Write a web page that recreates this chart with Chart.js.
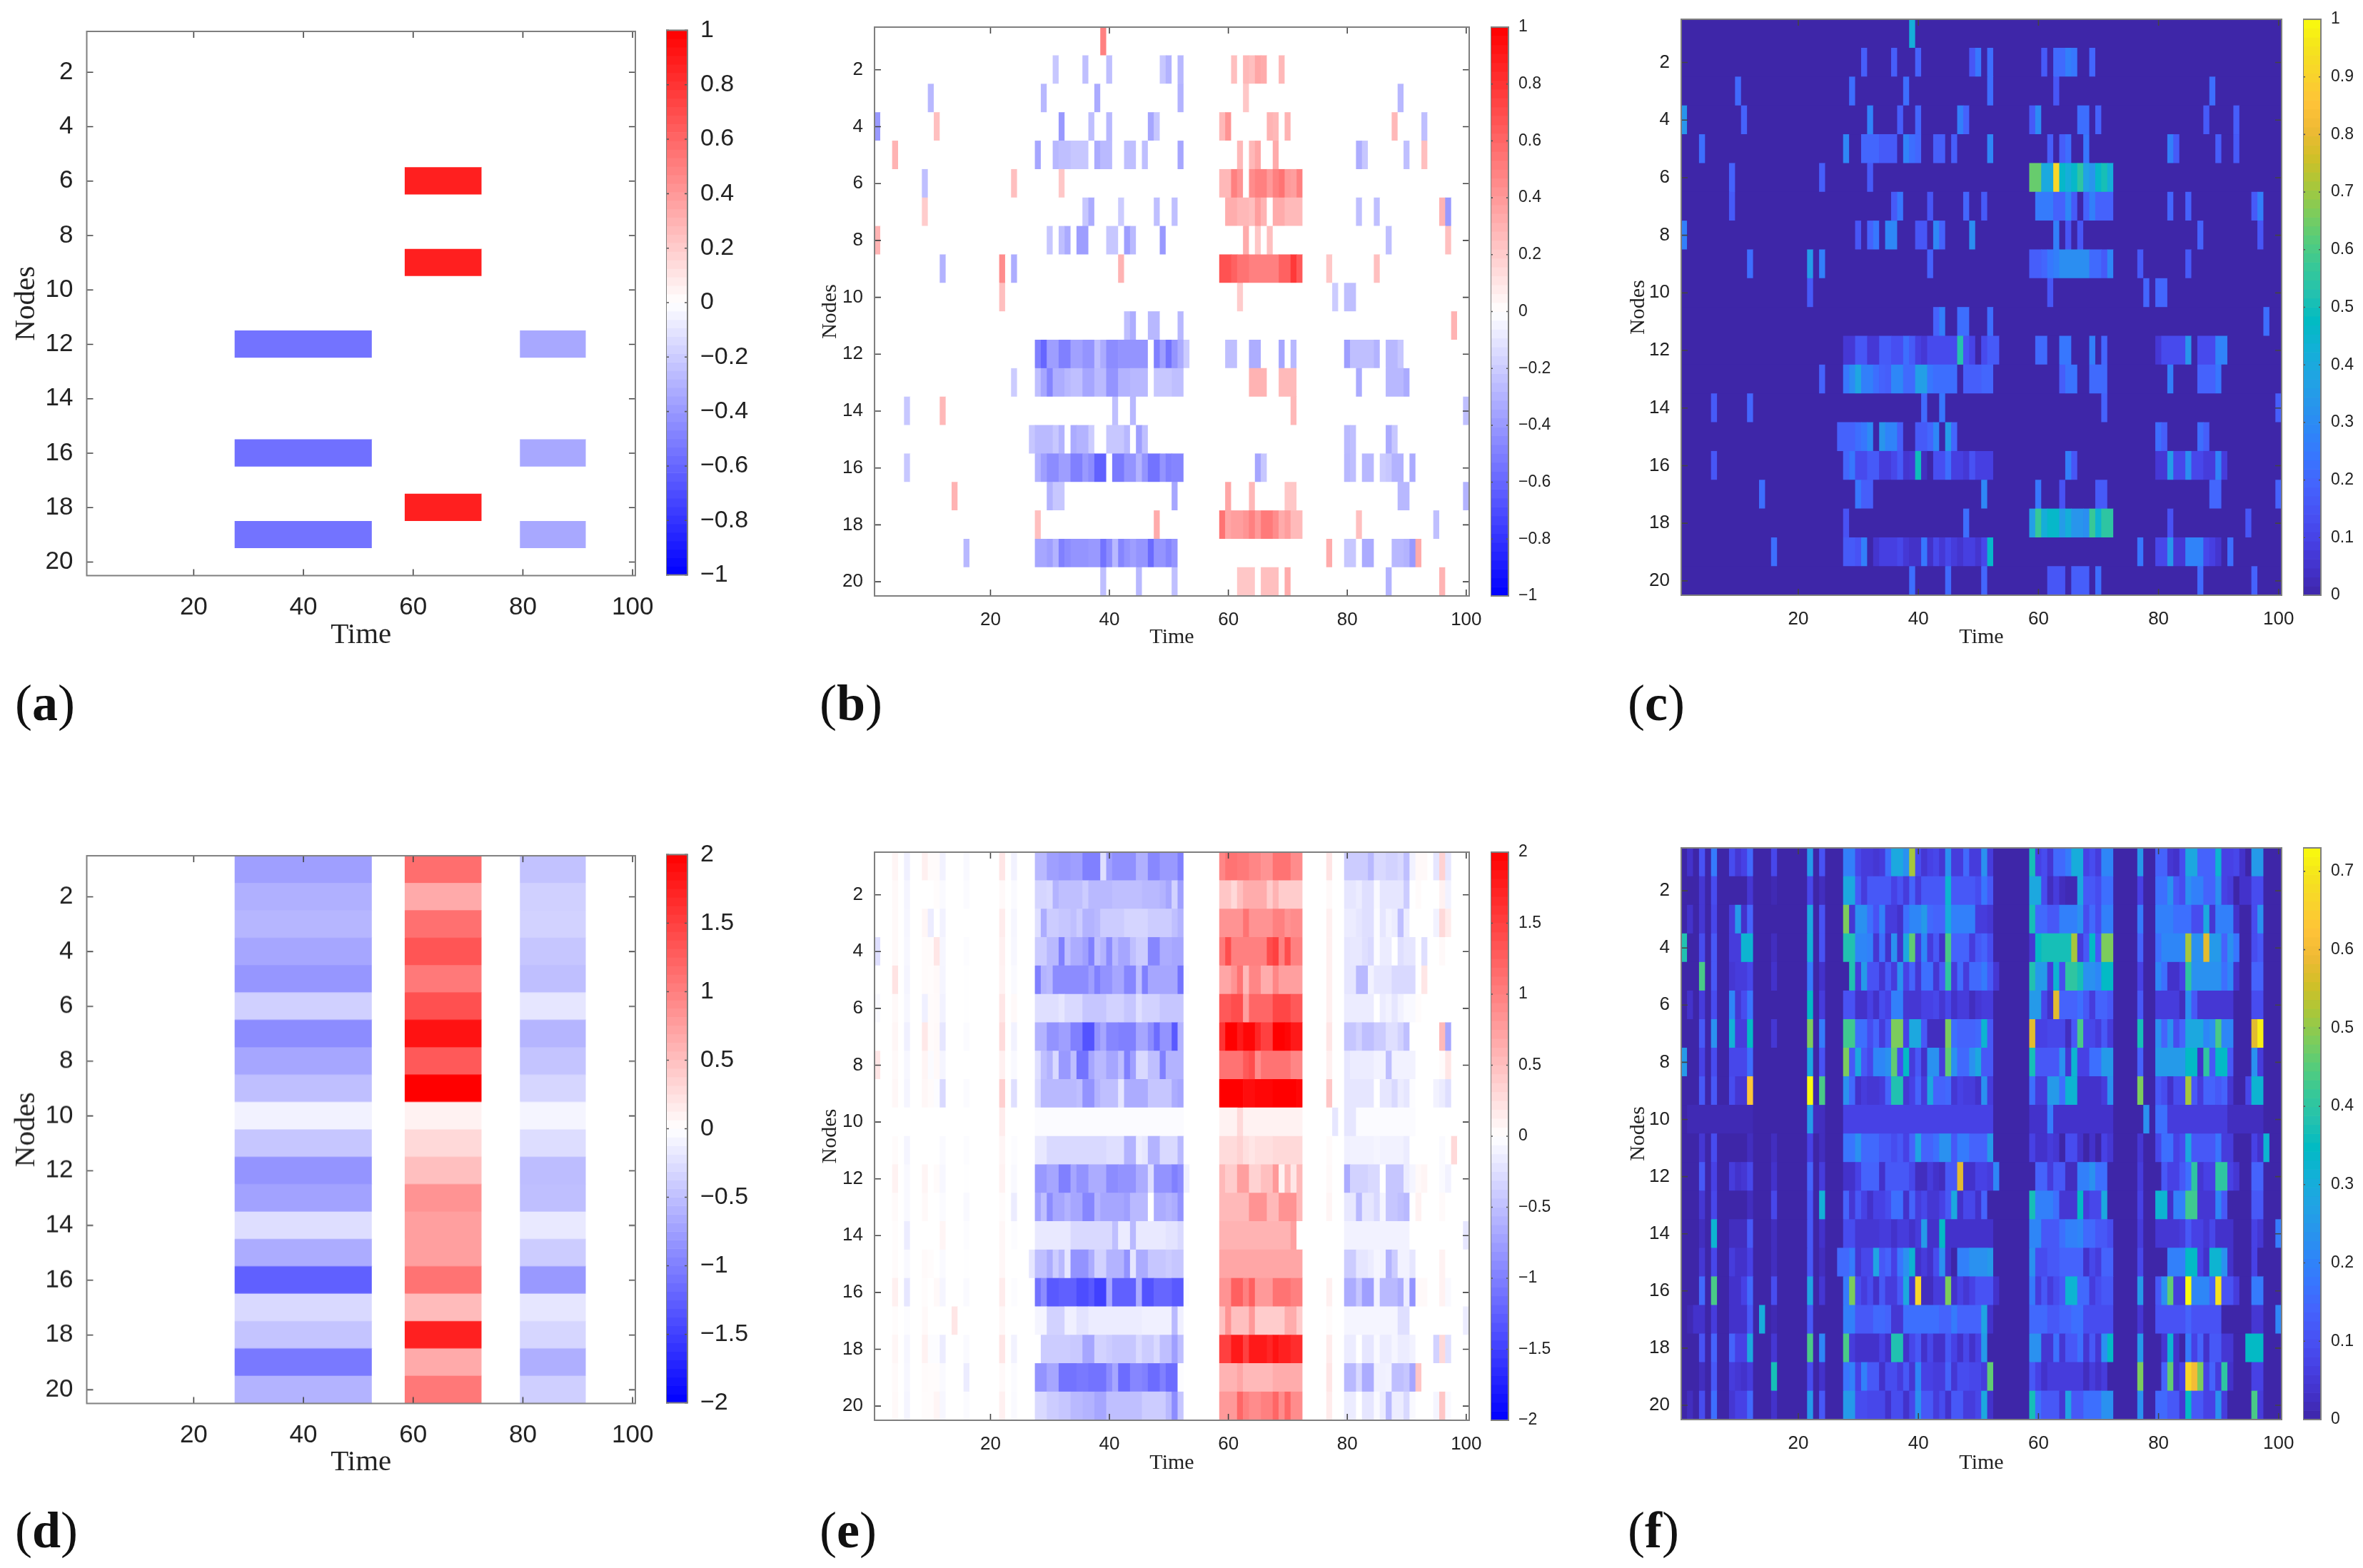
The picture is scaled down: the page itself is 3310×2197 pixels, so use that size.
<!DOCTYPE html>
<html><head><meta charset="utf-8">
<script src="https://cdn.jsdelivr.net/npm/chart.js@4/dist/chart.umd.min.js"></script>
<style>
html,body{margin:0;padding:0;background:#fff;width:3310px;height:2197px;overflow:hidden}
canvas{position:absolute}
.tag{position:absolute;font-family:"Liberation Serif";font-size:72px;line-height:72px;color:#111}
.tag b{font-weight:700}
</style></head><body>
<script>
// ---------- tick labels ----------
const nodeTicks=[2,4,6,8,10,12,14,16,18,20];
const timeTicks=[20,40,60,80,100];
const barTicksUnit=[-1,-.8,-.6,-.4,-.2,0,.2,.4,.6,.8,1];
const barTicksTwo=[-2,-1.5,-1,-.5,0,.5,1,1.5,2];
const barTicksC=[0,.1,.2,.3,.4,.5,.6,.7,.8,.9,1];
const barTicksF=[0,.1,.2,.3,.4,.5,.6,.7];
// ---------- panel a: each row is a flat list start,end,value ----------
const rowsA=[[],[],[],[],[],
[59,72,.88],[],[],[59,72,.88],[],[],
[28,52,-.55,80,91,-.34],[],[],[],
[28,52,-.56,80,91,-.34],[],
[59,72,.88],
[28,52,-.55,80,91,-.34],[]];
// ---------- panel d: block strengths per node ----------
const dBlue=[-.75,-.62,-.57,-.7,-.82,-.37,-.9,-.7,-.5,-.1,-.45,-.84,-.73,-.26,-.65,-1.25,-.3,-.46,-1.05,-.6];
const dRed=[1.14,.67,1.12,1.33,1.05,1.37,1.86,1.3,2,.1,.3,.5,.85,.75,.75,1.1,.53,1.75,.67,1.06];
const dThird=[-.48,-.37,-.35,-.45,-.5,-.2,-.58,-.46,-.32,-.08,-.27,-.52,-.5,-.17,-.4,-.8,-.2,-.32,-.63,-.38];
// ---------- panel b ----------
const rowsB=[
[39,39,.5],
[31,31,-.22,36,36,-.25,40,40,-.25,49,49,-.22,50,50,-.3,52,52,-.28,61,61,.25,63,63,.28,64,64,.25,65,65,.35,66,66,.33,69,69,.28],
[10,10,-.28,29,29,-.28,38,38,-.33,52,52,-.3,63,63,.22,89,89,-.28],
[1,1,-.4,11,11,.25,32,32,-.4,37,37,-.25,40,40,-.28,47,47,-.35,48,48,-.22,59,59,.28,60,60,.42,67,67,.3,68,68,.28,70,70,.3,88,88,.28,93,93,-.25],
[4,4,.3,28,28,-.35,31,31,-.28,32,33,-.25,34,36,-.22,38,38,-.33,39,40,-.27,43,44,-.25,46,46,-.25,52,52,-.35,62,62,.28,64,64,.28,65,65,.35,68,68,.33,82,82,-.32,83,83,-.22,90,90,-.25,93,93,.25],
[9,9,-.25,24,24,.25,32,32,.22,59,60,.28,61,61,.5,62,62,.42,64,64,.45,65,66,.5,67,67,.4,68,68,.5,69,69,.55,70,70,.4,71,71,.38,72,72,.5],
[9,9,.2,36,36,-.22,37,37,-.33,42,42,-.2,48,48,-.25,51,51,-.25,60,61,.32,62,63,.28,64,64,.25,65,65,.38,66,66,.3,68,69,.33,70,72,.27,82,82,-.25,85,85,-.25,96,96,.3,97,97,-.4],
[1,1,.3,30,30,-.22,32,32,-.25,33,33,-.33,35,36,-.38,40,41,-.22,43,43,-.38,44,44,-.27,49,49,-.4,63,63,.33,65,65,.22,67,67,.25,87,87,-.25,97,97,.25],
[12,12,-.3,22,22,.45,24,24,-.32,42,42,.3,59,60,.68,61,61,.62,62,63,.55,64,68,.5,69,70,.62,71,71,.78,72,72,.65,77,77,.22,85,85,.25],
[22,22,.25,62,62,.2,78,78,-.2,80,81,-.25],
[43,43,-.25,44,44,-.32,47,48,-.28,52,52,-.28,98,98,.3],
[28,28,-.5,29,29,-.6,30,31,-.38,32,33,-.5,34,35,-.37,36,37,-.42,38,38,-.25,39,39,-.33,40,41,-.45,42,46,-.42,48,48,-.5,49,49,-.38,50,50,-.55,51,51,-.42,52,52,-.33,53,53,-.2,60,61,-.25,64,65,-.32,69,69,-.35,71,71,-.28,80,80,-.38,81,84,-.25,85,85,-.3,87,88,-.28,89,89,-.22],
[24,24,-.2,28,28,-.25,29,29,-.35,30,30,-.48,31,32,-.32,33,33,-.28,34,35,-.25,36,37,-.35,38,39,-.27,40,41,-.42,42,43,-.3,44,46,-.28,48,50,-.22,51,52,-.25,64,66,.3,69,71,.27,82,82,-.33,87,89,-.28,90,90,-.33],
[6,6,-.22,12,12,.28,41,41,-.25,44,44,-.28,71,71,.28,100,100,-.25],
[27,27,-.22,28,30,-.27,31,31,-.22,32,32,-.3,34,34,-.33,35,36,-.3,37,37,-.2,40,42,-.22,43,43,-.28,45,45,-.38,46,46,-.25,80,80,-.27,81,81,-.25,87,87,-.33,88,88,-.22],
[6,6,-.22,28,28,-.3,29,29,-.38,30,31,-.45,32,33,-.38,34,35,-.5,36,36,-.4,37,37,-.45,38,39,-.62,41,42,-.52,43,44,-.42,45,45,-.3,46,46,-.42,47,48,-.55,49,49,-.42,50,50,-.5,51,52,-.48,65,65,-.35,66,66,-.22,80,80,-.28,81,81,-.25,83,84,-.28,86,86,-.2,87,87,-.22,88,89,-.3,91,91,-.33],
[14,14,.3,30,30,-.3,31,32,-.22,51,51,-.35,60,60,.35,64,64,.28,70,71,.22,89,90,-.28,100,100,-.3],
[28,28,.25,48,48,.33,59,59,.55,60,60,.35,61,62,.38,63,63,.42,64,64,.5,65,65,.4,66,67,.52,68,68,.45,69,69,.33,70,70,.38,71,72,.27,82,82,.25,95,95,-.25],
[16,16,-.28,28,29,-.35,30,30,-.38,31,31,-.3,32,32,-.5,33,33,-.45,34,36,-.42,37,38,-.4,39,39,-.55,40,40,-.45,41,41,-.28,42,42,-.48,43,43,-.42,44,44,-.38,45,46,-.42,47,47,-.58,48,49,-.42,50,50,-.48,51,51,-.42,77,77,.33,80,81,-.22,83,84,-.33,88,89,-.28,90,90,-.3,91,91,-.4,92,92,.33],
[39,39,-.25,45,45,-.28,51,51,-.25,62,64,.22,66,68,.25,70,70,.33,87,87,-.3,96,96,.3]
];
// ---------- panel c ----------
const rowsC=[
[39,39,.38],
[31,31,.16,36,36,.16,40,40,.17,49,49,.14,50,50,.22,52,52,.2,61,61,.15,63,64,.19,65,65,.24,66,66,.22,69,69,.18],
[10,10,.19,29,29,.2,38,38,.2,52,52,.2,63,63,.14,89,89,.2],
[1,1,.3,11,11,.17,32,32,.25,37,37,.16,40,40,.18,47,47,.24,48,48,.17,59,59,.15,60,60,.27,67,68,.2,70,70,.17,88,88,.15,93,93,.16],
[4,4,.2,28,28,.26,31,33,.18,34,36,.15,38,38,.25,39,39,.2,40,40,.18,43,44,.16,46,46,.16,52,52,.26,62,62,.16,64,64,.16,65,65,.2,68,68,.22,82,82,.24,83,83,.15,90,90,.16,93,93,.15],
[9,9,.17,24,24,.16,32,32,.15,59,60,.58,61,62,.36,63,63,.83,64,64,.42,65,65,.38,66,66,.42,67,67,.5,68,68,.34,69,69,.3,70,70,.42,71,71,.46,72,72,.38],
[9,9,.15,36,36,.15,37,37,.22,42,42,.14,48,48,.18,51,51,.15,60,62,.23,63,64,.17,65,65,.26,66,66,.15,68,68,.17,69,69,.24,70,72,.17,82,82,.18,85,85,.17,96,96,.15,97,97,.24],
[1,1,.24,30,30,.14,32,32,.17,33,33,.22,35,36,.26,40,41,.14,43,43,.26,44,44,.17,49,49,.28,63,63,.24,65,65,.14,67,67,.14,87,87,.17,97,97,.14],
[12,12,.2,22,22,.32,24,24,.24,42,42,.17,59,60,.16,61,61,.18,62,62,.22,63,63,.24,64,68,.28,69,70,.19,71,71,.15,72,72,.26,77,77,.15,85,85,.15],
[22,22,.15,62,62,.14,78,78,.18,80,81,.18],
[43,43,.17,44,44,.24,47,48,.2,52,52,.2,98,98,.2],
[28,29,.06,30,31,.14,32,33,.06,34,35,.15,36,37,.12,38,38,.2,39,39,.15,40,40,.08,41,41,.06,42,46,.11,47,47,.48,48,48,.13,49,49,.09,51,51,.11,52,53,.15,60,61,.19,64,65,.22,69,69,.24,71,71,.18,80,80,.06,81,84,.11,85,85,.3,87,89,.11,90,91,.25],
[24,24,.17,28,28,.22,29,29,.27,30,30,.35,31,32,.24,33,33,.2,34,34,.17,35,35,.16,36,37,.26,38,39,.19,40,41,.33,42,42,.22,43,46,.2,48,50,.16,51,52,.18,64,64,.16,65,66,.21,69,71,.19,82,82,.24,87,89,.17,90,90,.22],
[6,6,.15,12,12,.18,41,41,.19,44,44,.22,71,71,.17,100,100,.16],
[27,29,.17,30,30,.2,31,31,.22,32,32,.27,34,34,.3,35,36,.25,37,37,.16,40,41,.15,42,42,.18,43,43,.26,45,45,.32,46,46,.18,80,80,.2,81,81,.16,87,87,.2,88,88,.16],
[6,6,.14,28,28,.18,29,29,.22,30,31,.11,32,33,.15,34,35,.07,36,36,.1,37,37,.15,38,38,.05,39,39,.06,40,40,.45,41,41,.03,43,44,.12,45,45,.2,46,47,.08,48,48,.06,49,49,.13,50,52,.08,65,65,.24,66,66,.14,80,81,.06,82,82,.32,83,84,.1,85,85,.28,86,87,.1,88,89,.07,90,90,.25,91,91,.07],
[14,14,.2,30,30,.22,31,32,.16,51,51,.26,60,60,.22,64,64,.13,70,71,.15,89,90,.18,100,100,.17],
[28,28,.13,48,48,.2,59,59,.33,60,60,.52,61,61,.38,62,63,.42,64,64,.32,65,65,.38,66,67,.3,68,68,.28,69,69,.52,70,70,.4,71,72,.5,82,82,.13,95,95,.14],
[16,16,.2,28,29,.15,30,30,.13,31,31,.24,33,33,.05,34,36,.08,37,37,.1,38,38,.06,39,40,.04,41,41,.22,42,42,.04,43,43,.1,44,44,.06,45,45,.1,46,46,.07,47,47,.05,48,49,.08,50,50,.05,51,51,.1,52,52,.42,77,77,.22,80,81,.1,82,82,.3,83,84,.06,85,87,.25,88,88,.1,89,89,.08,90,90,.05,92,92,.2],
[39,39,.2,45,45,.19,51,51,.18,62,64,.14,66,68,.16,70,70,.2,87,87,.19,96,96,.17]
];
// ---------- panel e ----------
const stripeColsE=[4,6,9,10,11,12,16,22,24];
const stripesE=[
[.08,-.12,.12,.03,.03,-.1,-.05,.2,-.1],
[.05,-.08,0,0,.02,-.04,-.03,.05,-.04],
[.05,-.07,.07,-.15,0,-.1,0,.15,-.07],
[.05,-.06,.03,.03,.2,-.07,-.02,.12,-.06],
[.22,-.08,.03,.02,.05,-.08,-.01,.1,-.04],
[.05,-.06,-.12,.03,.04,-.1,-.01,.2,.05],
[.07,-.12,.18,.03,.05,-.2,-.03,.28,-.1],
[.05,-.06,.08,-.03,.05,-.08,0,.12,-.05],
[.06,-.08,.06,.03,-.02,-.3,-.03,.38,-.25],
[0,0,0,0,0,0,0,.15,0],
[.03,-.08,0,0,0,-.04,-.02,.08,-.02],
[.1,-.05,.08,0,.03,-.06,-.01,.1,-.05],
[.04,-.05,.05,0,0,-.03,-.05,.03,-.15],
[.02,-.15,0,0,0,.08,-.02,.06,-.02],
[.03,-.05,.04,.02,0,-.04,-.01,.06,0],
[.12,-.2,.02,0,.05,-.08,-.04,.15,-.02],
[.02,-.02,.05,0,0,0,0,.06,0],
[.07,-.07,.1,-.02,-.02,-.15,-.04,.2,-.1],
[.04,-.06,.03,.02,.02,-.04,-.15,.05,-.03],
[.05,-.08,.02,.02,.08,-.06,-.03,.12,-.04]
];
const col77E=[.2,.05,.12,.12,.12,.12,.2,.12,.45,0,.04,.05,.08,0,0,.12,.03,.15,.2,.15];
const blueE=[
[28,29,.55,30,31,.75,32,33,.8,34,35,.75,36,38,1,39,39,.25,40,40,.75,41,44,.87,45,46,.62,47,48,.93,49,51,.8,52,52,1],
[28,29,.33,30,30,.3,31,31,.6,32,35,.5,36,36,.4,37,40,.55,41,45,.5,46,48,.55,49,49,.6,50,50,.7,51,51,.35,52,52,.75],
[28,28,.25,29,29,.65,30,31,.4,32,33,.45,34,34,.5,35,35,.4,36,37,.6,38,38,.55,39,42,.4,43,46,.33,47,50,.4,51,51,.5,52,52,.6],
[28,29,.4,30,31,.55,32,32,1,33,33,.5,34,35,.65,36,36,.75,37,37,1,38,38,.5,39,39,.6,40,40,.9,41,41,.55,42,43,.7,44,44,.5,45,46,.4,47,48,.95,49,50,.65,51,52,.7],
[28,28,1,29,29,.6,30,30,.55,31,36,.9,37,37,.75,38,38,1,39,40,.85,41,42,.7,43,44,.95,45,45,.5,46,46,1,47,51,.7,52,52,1.1,53,53,.02],
[28,31,.25,32,32,.2,33,35,.3,36,39,.45,40,42,.35,43,44,.45,45,45,.25,46,48,.35,49,52,.45],
[28,29,.6,30,31,.85,32,33,.75,34,35,1,36,37,1.35,38,38,.85,39,39,.7,40,41,.95,42,44,1,45,46,.7,47,47,.9,48,48,1.15,49,50,.85,51,51,1.3,52,52,.6],
[28,28,.25,29,29,.5,30,30,.6,31,31,.3,32,33,.8,34,34,.5,35,36,1.1,37,37,.7,38,39,.55,40,41,.7,42,42,.5,43,43,1,44,44,.75,45,46,.3,47,48,.5,49,49,1,50,52,.6],
[28,28,.3,29,34,.55,35,35,.5,36,37,.85,38,38,.6,39,41,.5,42,42,.2,43,46,.65,47,50,.45,51,51,.65,52,52,.7],
[28,52,.03],
[28,29,.18,30,39,.3,40,42,.25,43,44,.6,45,45,.15,46,46,.2,47,48,.6,49,51,.3,52,52,.55],
[28,29,.8,30,31,.7,32,33,1,34,34,.7,35,36,.85,37,39,.65,40,41,.9,42,44,.85,45,46,.65,47,47,.25,48,50,.85,51,51,1,52,52,.9,53,53,.12],
[28,28,.7,29,29,.5,30,30,.9,31,32,.7,33,33,.6,34,35,.7,36,37,.95,38,38,.6,39,42,.7,43,43,.75,44,46,.55,48,49,.65,50,50,.6,51,51,.65,52,52,.85],
[28,33,.17,34,40,.3,41,41,.5,42,43,.15,44,44,.55,45,49,.17,50,51,.22,52,52,.3],
[27,27,.2,28,29,.5,30,30,.65,31,31,.4,32,32,.55,33,33,.2,34,36,.85,37,37,.65,38,39,.35,40,42,.6,43,43,.85,44,44,.2,45,46,.65,47,49,.45,50,50,.4,51,52,.45],
[28,28,1.1,29,29,.9,30,31,1.3,32,34,1.25,35,36,1.4,37,37,1.3,38,39,1.5,40,40,.7,41,44,1.25,45,45,.65,46,47,1.35,48,50,1.2,51,52,1.3,53,53,.02],
[28,29,.08,30,32,.35,33,34,.12,35,36,.22,37,45,.15,46,50,.12,51,51,.55,52,52,.12],
[29,33,.4,34,35,.42,36,37,.7,38,39,.35,40,40,.4,41,44,.45,45,45,.3,46,47,.4,48,48,.3,49,50,.5,51,51,.75,52,52,.5],
[28,29,.85,30,31,.7,32,34,1.1,35,36,1.05,37,39,1.1,40,40,.9,41,41,.7,42,43,1.15,44,45,.95,46,46,1,47,48,1.15,49,49,1,50,51,1.15,52,52,.02],
[28,29,.3,30,31,.4,32,33,.45,34,35,.55,36,37,.6,38,39,.7,40,45,.5,46,49,.4,50,50,.55,51,51,.9,52,52,.45]
];
const redE=[
[59,59,.95,60,61,1.1,62,63,1.05,64,65,.95,66,67,.85,68,70,1.1,71,72,.9],
[59,60,.45,61,61,.3,62,62,.5,63,66,.65,67,67,.4,68,68,.6,69,72,.4],
[59,62,.85,63,63,1.1,64,67,.85,68,69,1,70,70,.85,71,72,.9],
[59,59,1.05,60,60,1.4,61,66,1,67,67,1.4,68,68,1.5,69,69,1,70,70,1.4,71,72,1],
[59,60,.7,61,61,.85,62,62,1.1,63,63,.55,64,65,.95,66,67,.65,68,68,.95,69,72,.75],
[59,60,1.3,61,62,1.4,63,63,.75,64,67,1.2,68,70,1.45,71,72,1.3],
[59,59,1.6,60,61,2,62,62,1.8,63,64,1.95,65,65,1.7,66,67,1.5,68,69,2,70,70,1.95,71,72,1.8],
[59,62,1.1,63,63,1.3,64,64,1.4,65,65,.9,66,70,1.1,71,72,.95],
[59,62,2,63,64,1.9,65,67,1.95,68,71,2,72,72,1.95],
[59,61,.1,62,62,.3,63,72,.1],
[59,61,.28,62,62,.35,63,63,.25,64,64,.2,65,67,.25,68,68,.3,69,72,.3],
[59,59,.55,60,61,.4,62,63,.75,64,65,.35,66,67,.5,68,68,.8,69,69,.1,70,70,.55,71,71,.2,72,72,.55],
[59,63,.55,64,66,.85,67,68,.55,69,71,.85,72,72,.55],
[59,70,.6,71,71,.75],
[59,72,.7],
[59,60,.85,61,62,1.25,63,63,1,64,64,1.25,65,67,.8,68,70,1.1,71,72,1],
[59,59,.5,60,60,.85,61,63,.5,64,64,.8,65,69,.4,70,71,.65,72,72,.4],
[59,60,1.5,61,62,1.8,63,63,1.5,64,66,1.8,67,67,1.7,68,68,1.85,69,70,1.75,71,72,1.65],
[59,61,.6,62,62,.7,63,67,.55,68,72,.65],
[59,61,.8,62,62,1.2,63,63,1,64,65,.9,66,67,1,68,68,1.2,69,69,.9,70,70,1.2,71,72,.9]
];
const thirdE=[
[80,83,.4,84,84,.55,85,86,.3,87,88,.35,89,89,.3,90,90,.5,91,91,.1],
[80,81,.2,82,82,.15,83,84,.25,85,85,.05,86,89,.2,90,90,.4],
[80,81,.15,82,82,.2,83,84,.25,85,85,.03,86,86,.2,87,87,.1,88,88,.15,89,89,.5,90,90,.15],
[80,80,.2,81,82,.18,83,83,.25,84,84,.3,85,85,.03,86,87,.15,89,89,.25,90,91,.2],
[80,81,.2,82,83,.55,84,84,.1,85,87,.2,88,91,.3],
[80,84,.15,86,86,.15,87,87,.1,88,88,.2,89,89,.1,90,91,.05],
[80,81,.45,82,82,.35,83,84,.5,85,86,.4,87,88,.25,89,89,.35,90,90,.5],
[80,80,.2,81,84,.15,85,86,.1,87,87,.5,88,91,.1],
[80,84,.2,86,87,.2,88,88,.3,89,89,.15,90,90,.2,91,91,.02],
[82,91,.03],
[80,80,.12,81,84,.1,85,85,.08,86,89,.1,90,90,.15],
[80,80,.65,81,83,.35,84,85,.3,87,89,.45,90,90,.15,91,91,.08],
[80,81,.18,82,82,.55,83,84,.2,85,85,.3,86,86,.08,87,88,.45,89,89,.5,90,90,.55],
[80,90,.1],
[80,81,.4,82,83,.2,84,84,.15,85,85,.08,86,86,.1,87,87,.6,88,88,.4,89,90,.1,91,91,.2],
[80,81,.65,82,82,.45,83,84,.75,85,85,.1,86,88,.55,89,89,.65,90,90,.15,91,91,.85],
[80,88,.08,89,90,.25],
[80,81,.15,83,84,.2,85,85,.05,86,87,.15,88,88,.08,89,90,.15,91,91,.1],
[80,81,.55,82,82,.3,83,84,.65,85,86,.12,87,87,.1,88,89,.5,90,90,.45,91,91,.7],
[80,81,.15,83,84,.2,85,85,.05,86,86,.15,87,87,.55,88,89,.15,90,90,.3,91,91,.05]
];
const extraE=[
[1,92,.05],[1,93,.05],[1,95,-.2],[1,96,.35],[1,97,-.2],[2,92,.03],[2,96,.1],[2,97,-.1],[3,95,-.1],[3,96,.3],[3,97,.15],
[4,1,-.25],[4,93,-.25],[4,96,.05],[5,93,.2],[6,1,-.05],[6,92,.02],[7,96,.55],[7,97,-.7],[8,1,.2],[8,96,.03],[8,97,.2],
[9,95,-.1],[9,96,-.15],[9,97,-.25],[11,96,-.04],[11,98,.3],[12,92,.05],[12,93,.08],[12,96,-.04],[12,97,-.1],[13,92,.1],[13,96,.04],
[14,100,-.2],[15,96,.1],[16,92,.05],[16,93,.05],[16,96,.1],[16,97,-.05],[17,14,.2],[17,100,-.15],[18,95,-.35],[18,96,.3],[18,97,-.25],
[19,92,.45],[20,95,-.08],[20,96,.45],[20,97,-.05],[10,78,-.2],[10,80,-.2],[10,81,-.2]
];
// ---------- panel f ----------
const rowsF=[
[2,2,.03,4,4,.09,6,6,.16,9,9,.08,10,10,.04,11,11,.06,12,12,.13,16,16,.07,22,22,.22,24,24,.09,28,29,.17,30,30,.07,31,32,.05,33,33,.04,34,34,.05,35,35,.14,36,37,.25,38,38,.2,39,39,.45,40,40,.08,41,41,.04,42,42,.06,43,43,.07,44,44,.04,45,45,.2,46,47,.05,48,48,.13,49,50,.05,51,51,.2,52,52,.05,59,59,.32,60,60,.06,61,61,.08,62,62,.04,63,64,.13,65,65,.16,66,67,.26,68,68,.06,69,69,.08,70,70,.05,71,72,.18,77,77,.22,80,81,.12,82,82,.04,83,83,.03,84,84,.08,85,86,.25,87,89,.12,90,90,.28,91,92,.06,93,93,.07,94,94,.03,96,97,.22],
[4,4,.04,6,6,.08,12,12,.04,16,16,.01,22,22,.07,24,24,.02,28,29,.25,30,30,.1,31,31,.05,32,35,.1,36,36,.06,37,37,.09,38,38,.05,39,39,.12,40,40,.05,41,44,.1,45,45,.28,46,49,.1,50,50,.08,51,51,.15,52,52,.1,59,60,.25,61,61,.08,62,62,.02,63,63,.05,64,64,.02,65,66,.01,67,67,.25,68,69,.1,70,70,.08,71,72,.14,77,77,.06,80,81,.14,82,82,.2,83,83,.1,84,84,.08,85,85,.2,86,87,.17,88,89,.12,90,90,.2,91,91,.06,92,92,.05,94,95,.03,96,97,.08],
[2,2,.03,4,4,.04,6,6,.07,9,9,.05,10,10,.22,11,11,.03,12,12,.12,22,22,.25,24,24,.09,28,28,.42,29,29,.04,30,31,.2,32,32,.14,33,33,.09,34,34,.17,35,36,.05,37,37,.03,38,38,.14,39,40,.18,41,41,.22,42,42,.13,43,44,.12,45,45,.26,46,49,.17,50,51,.05,52,52,.04,59,59,.32,60,61,.13,62,63,.1,64,66,.17,67,67,.2,68,68,.08,69,69,.13,70,70,.08,71,72,.17,77,77,.16,80,82,.17,83,85,.14,86,87,.08,88,88,.25,89,89,.04,90,92,.17,93,93,.03,96,96,.08,97,97,.2],
[1,1,.33,4,4,.08,6,6,.1,9,10,.05,11,12,.28,16,16,.02,22,22,.27,24,24,.09,28,29,.33,30,31,.18,32,32,.17,33,33,.04,34,34,.14,35,35,.03,36,36,.2,37,37,.03,38,38,.25,39,39,.4,40,40,.05,41,41,.18,42,42,.05,43,43,.1,44,44,.03,45,45,.38,46,48,.12,49,49,.05,50,50,.1,51,51,.12,52,52,.08,59,59,.04,60,60,.3,61,65,.32,66,66,.45,67,67,.05,68,68,.1,69,69,.3,70,70,.1,71,72,.42,77,77,.12,80,80,.14,81,84,.18,85,85,.45,86,87,.2,88,88,.5,89,90,.22,91,91,.12,92,92,.2,93,93,.15,96,96,.08,97,97,.1],
[4,4,.38,6,6,.1,9,9,.04,10,11,.05,12,12,.07,16,16,.03,22,22,.16,24,24,.03,29,29,.33,30,30,.05,31,31,.22,32,33,.09,34,34,.04,35,35,.1,36,36,.05,37,37,.2,38,38,.06,39,39,.12,40,40,.04,41,42,.14,43,43,.04,44,44,.1,45,45,.35,46,46,.05,47,47,.13,48,48,.05,49,50,.13,51,51,.16,52,52,.1,53,53,.04,59,59,.33,60,61,.22,62,62,.05,63,63,.28,64,64,.08,65,66,.35,67,67,.32,68,69,.2,70,70,.18,71,72,.3,77,77,.06,80,80,.18,81,81,.14,82,83,.03,84,84,.06,85,85,.35,86,90,.2,91,91,.14,92,92,.18,93,93,.03,96,97,.12],
[2,2,.03,4,4,.05,6,6,.08,9,9,.18,10,10,.04,11,11,.08,12,12,.15,22,22,.3,24,24,.05,28,29,.09,30,31,.03,32,32,.06,33,33,.03,34,34,.08,35,35,.06,36,37,.17,38,40,.04,41,42,.06,43,43,.07,44,44,.04,45,45,.07,46,46,.03,47,48,.05,49,49,.02,50,50,.04,51,52,.05,59,60,.22,61,61,.07,62,62,.03,63,63,.5,64,66,.12,67,67,.14,68,68,.1,69,69,.05,70,71,.12,72,72,.1,77,77,.1,80,83,.05,84,84,.02,85,85,.2,86,86,.1,87,92,.04,96,97,.08],
[4,4,.1,6,6,.2,9,9,.27,10,11,.05,12,12,.3,16,16,.04,22,22,.42,24,24,.16,28,29,.37,30,31,.14,32,32,.08,33,33,.12,34,34,.05,35,35,.1,36,37,.42,38,38,.06,39,40,.25,41,41,.1,42,44,.02,45,45,.42,46,46,.14,47,49,.12,50,50,.13,51,51,.28,52,52,.1,59,59,.5,60,61,.06,62,64,.07,65,65,.02,66,66,.1,67,67,.38,68,69,.07,70,70,.05,71,71,.1,72,72,.05,77,77,.32,80,80,.2,81,81,.12,82,82,.2,83,83,.08,84,84,.12,85,87,.25,88,88,.18,89,89,.2,90,90,.38,91,92,.18,96,96,.5,97,97,.62],
[1,1,.22,4,4,.06,6,6,.08,9,11,.07,12,12,.14,22,22,.25,24,24,.09,28,28,.42,29,29,.1,30,30,.25,31,31,.1,32,32,.07,33,34,.18,35,35,.2,36,36,.4,37,37,.08,38,38,.3,39,39,.05,40,40,.1,41,41,.03,42,43,.2,44,44,.05,45,45,.4,46,46,.2,47,48,.13,49,49,.2,50,50,.25,51,52,.1,59,59,.32,60,63,.1,64,64,.2,65,65,.04,66,66,.28,67,68,.06,69,70,.14,71,72,.22,77,77,.12,80,84,.22,85,86,.3,87,87,.03,88,88,.35,89,89,.1,90,91,.3,92,92,.1,96,96,.2,97,97,.05],
[4,4,.1,6,6,.1,9,9,.08,10,11,.04,12,12,.55,22,22,.73,24,24,.38,28,28,.2,29,29,.13,30,30,.03,31,31,.05,32,33,.04,34,34,.05,35,35,.12,36,37,.33,38,38,.04,39,39,.06,40,40,.12,41,41,.05,42,42,.25,43,44,.12,45,45,.13,46,46,.04,47,47,.06,48,49,.05,50,50,.03,51,51,.2,52,52,.05,59,59,.14,60,61,.05,62,63,.22,64,64,.14,65,66,.28,67,70,.03,71,71,.05,72,72,.2,77,77,.42,80,80,.1,81,81,.08,82,82,.03,83,84,.08,85,85,.45,86,86,.1,87,87,.05,88,89,.12,90,90,.1,91,91,.12,92,92,.04,95,95,.07,96,97,.28],
[2,12,.01,22,22,.22,23,24,.02,28,52,.06,59,61,.03,62,62,.16,63,72,.03,78,78,.2,80,81,.14,82,91,.05,92,97,.02],
[4,4,.04,6,6,.08,12,12,.02,16,16,.02,22,22,.06,24,24,.02,28,29,.15,30,30,.2,31,33,.13,34,35,.1,36,36,.08,37,37,.1,38,38,.06,39,39,.12,40,40,.24,41,42,.12,43,43,.14,44,45,.2,46,46,.1,47,48,.16,49,51,.12,52,52,.22,59,59,.06,60,61,.03,62,62,.05,63,63,.04,65,66,.08,67,67,.03,69,69,.03,71,71,.06,72,72,.04,77,77,.04,80,80,.07,81,82,.14,83,83,.06,84,84,.08,85,85,.25,86,89,.1,90,90,.15,91,92,.05,96,96,.06,97,97,.03,98,98,.28],
[4,4,.1,6,6,.06,9,9,.05,10,10,.03,11,11,.04,12,12,.07,16,16,.03,22,22,.12,24,24,.05,28,29,.03,30,30,.06,31,33,.12,34,34,.03,35,38,.1,39,39,.07,40,41,.02,42,42,.05,43,43,.03,44,44,.02,45,46,.1,47,47,.5,48,49,.03,50,51,.06,52,52,.05,53,53,.18,60,61,.12,62,62,.05,63,64,.1,65,66,.02,67,68,.17,69,69,.2,70,71,.14,77,77,.05,81,81,.1,82,83,.06,84,84,.1,85,85,.14,86,86,.35,87,87,.04,88,89,.06,90,91,.35,92,92,.06,93,93,.04,96,97,.12],
[4,4,.04,6,6,.07,12,12,.02,16,16,.07,22,22,.1,24,24,.27,28,28,.12,29,29,.04,30,30,.1,31,31,.06,32,32,.03,33,34,.06,35,35,.08,36,37,.14,38,38,.03,39,39,.12,40,40,.05,41,41,.07,42,43,.04,44,44,.06,45,45,.1,46,46,.25,47,47,.03,48,49,.07,50,50,.03,51,51,.12,59,59,.32,60,62,.17,63,63,.14,64,66,.04,67,67,.3,68,68,.05,69,70,.07,71,71,.25,77,77,.06,80,81,.28,82,82,.03,83,84,.17,85,86,.37,87,89,.04,90,90,.18,91,91,.1,96,97,.1],
[4,4,.02,6,6,.28,9,11,.02,12,12,.1,16,16,.02,22,22,.1,24,24,.03,28,29,.08,30,33,.04,34,35,.05,36,36,.03,37,38,.05,39,39,.03,40,40,.05,41,41,.22,42,43,.03,44,44,.3,45,52,.03,59,60,.18,61,63,.1,64,64,.14,65,66,.17,67,67,.18,68,69,.13,70,71,.1,72,72,.08,77,77,.05,80,83,.04,84,84,.05,85,85,.1,86,87,.06,88,88,.04,89,89,.07,90,92,.03,96,96,.06,97,97,.04,100,100,.16],
[4,4,.04,6,6,.07,9,9,.05,10,11,.03,12,12,.06,16,16,.02,22,22,.1,24,24,.02,27,28,.13,29,29,.16,30,30,.04,31,32,.07,33,33,.24,34,34,.1,35,35,.12,36,36,.06,37,37,.15,38,38,.2,39,39,.28,40,40,.03,41,41,.05,42,42,.03,43,43,.08,44,44,.2,45,45,.03,47,48,.17,49,51,.2,52,52,.22,59,59,.2,60,61,.08,62,63,.1,64,67,.12,68,68,.03,69,69,.07,70,70,.05,71,72,.12,77,77,.07,82,84,.17,85,86,.3,87,87,.06,88,88,.03,89,90,.28,91,91,.2,92,92,.03,96,96,.06],
[4,4,.13,6,6,.38,9,10,.03,11,11,.06,12,12,.13,16,16,.08,22,22,.24,24,24,.04,28,28,.16,29,29,.42,30,30,.08,31,31,.05,32,32,.08,33,33,.03,34,34,.1,35,36,.05,37,37,.1,38,38,.25,39,39,.04,40,40,.58,41,42,.02,43,44,.05,45,45,.42,46,46,.03,47,47,.06,48,48,.04,49,49,.06,50,52,.09,53,53,.03,59,59,.16,60,60,.05,61,61,.1,62,62,.05,63,63,.08,64,64,.1,65,66,.28,67,68,.13,69,69,.05,70,70,.08,71,72,.1,77,77,.22,80,80,.1,81,81,.2,82,82,.4,83,84,.05,85,85,.73,86,88,.18,89,89,.12,90,90,.6,91,92,.09,93,93,.05,96,97,.16],
[2,2,.01,3,4,.03,6,6,.05,9,11,.03,12,12,.1,14,14,.26,16,16,.01,22,22,.1,28,29,.17,30,32,.1,33,34,.13,35,35,.12,36,37,.04,38,43,.14,44,45,.12,46,46,.16,47,50,.12,51,51,.24,52,52,.03,59,61,.13,62,63,.1,64,65,.12,66,67,.14,68,72,.08,77,77,.04,80,84,.09,85,85,.12,86,90,.09,96,97,.04,100,100,.18],
[4,4,.09,6,6,.12,9,9,.12,10,11,.06,12,12,.25,16,16,.04,22,22,.38,24,24,.18,28,28,.38,29,29,.05,30,33,.03,34,34,.06,35,35,.03,36,37,.33,38,38,.03,39,39,.07,40,40,.1,41,41,.03,42,42,.07,43,44,.03,45,45,.1,46,46,.06,47,47,.03,48,48,.07,49,49,.03,50,50,.06,51,51,.22,59,60,.2,61,62,.04,63,63,.14,64,64,.04,65,66,.1,67,67,.14,68,68,.04,69,69,.1,70,70,.04,71,71,.2,72,72,.3,77,77,.22,81,81,.04,82,82,.28,83,83,.03,85,85,.16,86,86,.06,87,87,.12,88,88,.03,89,90,.1,91,92,.04,95,97,.3],
[4,4,.02,6,6,.1,9,9,.05,10,10,.04,11,11,.03,12,12,.05,16,16,.32,22,22,.08,24,24,.03,28,28,.15,29,29,.17,30,30,.06,31,31,.17,32,33,.1,34,34,.03,35,36,.08,37,37,.05,38,38,.1,39,39,.04,40,40,.18,41,42,.06,43,44,.05,45,45,.12,46,46,.04,47,48,.08,49,50,.07,51,51,.05,52,52,.4,59,59,.1,60,60,.06,61,61,.03,62,67,.05,68,68,.02,69,69,.05,70,70,.03,71,71,.05,77,77,.42,81,81,.12,82,82,.4,83,83,.03,84,84,.06,85,85,.58,86,86,.52,87,87,.42,88,88,.06,89,89,.12,90,90,.05,91,91,.35,92,92,.03,96,97,.06],
[2,2,.02,4,4,.08,6,6,.14,9,9,.04,10,11,.06,12,12,.13,16,16,.03,22,22,.22,24,24,.1,28,29,.22,30,31,.08,32,34,.07,35,35,.03,36,37,.08,38,38,.03,39,39,.07,40,40,.2,41,42,.1,43,43,.05,44,44,.08,45,45,.03,46,47,.1,48,49,.05,50,50,.07,51,51,.25,52,52,.03,59,59,.32,60,60,.14,61,63,.1,64,64,.04,65,65,.24,66,67,.1,68,70,.14,71,72,.2,77,77,.2,80,81,.13,82,83,.1,84,84,.04,85,85,.3,86,87,.1,88,89,.06,90,90,.2,91,91,.05,96,96,.38,97,97,.05]
];
// correction for my readings of the two parula panels, which came out slightly low against the colour bars
const readGainC=1.1, readGainF=1.15;

// ---------- colour maps ----------
const parulaStops=[[.2422,.1504,.6603],[.2647,.1978,.7952],[.2783,.2559,.8991],[.2810,.3228,.9579],[.2699,.3892,.9906],[.2206,.4603,.9973],[.1786,.5289,.9682],[.1540,.5902,.9218],[.1248,.6459,.8883],[.0689,.6948,.8394],[.0067,.7312,.7660],[.1408,.7584,.6842],[.2161,.7843,.5923],[.3406,.8008,.4789],[.5044,.7993,.3480],[.6720,.7793,.2227],[.8203,.7498,.1535],[.9393,.7288,.2100],[.9970,.7659,.2199],[.9739,.8315,.1700],[.9589,.8949,.1132],[.9763,.9831,.0538]];
function parula(t){t=Math.max(0,Math.min(1,t))*(parulaStops.length-1);const i=Math.min(Math.floor(t),parulaStops.length-2),f=t-i;
  const a=parulaStops[i],b=parulaStops[i+1];return `rgb(${a.map((c,k)=>Math.round(255*(c+(b[k]-c)*f))).join(',')})`;}
function diverge(t){const g=Math.round(255*(1-Math.min(1,Math.abs(t))));return t>=0?`rgb(255,${g},${g})`:`rgb(${g},${g},255)`;}

// ---------- building cell grids from the value lists ----------
function emptyGrid(){return Array.from({length:20},()=>new Array(100).fill(0));}
function fromRows(rows,gain){const g=emptyGrid();rows.forEach((r,i)=>{for(let k=0;k<r.length;k+=3)for(let c=r[k];c<=r[k+1];c++)g[i][c-1]=r[k+2]*(gain||1);});return g;}
function merge(into,rows,sign){rows.forEach((r,i)=>{for(let k=0;k<r.length;k+=3)for(let c=r[k];c<=r[k+1];c++)into[i][c-1]=r[k+2]*sign;});}
const gridD=emptyGrid();
for(let i=0;i<20;i++){for(let c=28;c<=52;c++)gridD[i][c-1]=dBlue[i];for(let c=59;c<=72;c++)gridD[i][c-1]=dRed[i];for(let c=80;c<=91;c++)gridD[i][c-1]=dThird[i];}
const gridE=emptyGrid();
merge(gridE,blueE,-1);merge(gridE,redE,1);merge(gridE,thirdE,-1);
stripesE.forEach((r,i)=>r.forEach((v,k)=>{gridE[i][stripeColsE[k]-1]=v;}));
col77E.forEach((v,i)=>{gridE[i][76]=v;});
extraE.forEach(([r,c,v])=>{gridE[r-1][c-1]=v;});

function cells(grid){const data=[];grid.forEach((row,i)=>{let s=0;for(let c=1;c<=100;c++){if(c===100||row[c]!==row[s]){data.push({x:[s+.5,c+.5],y:i+1,v:row[s]});s=c;}}});return data;}

const framePlugin={id:'frame',
 beforeDatasetsDraw(chart,a,o){if(o.under){const {ctx,chartArea:{left:l,right:r,top:t,bottom:b}}=chart;ctx.save();ctx.fillStyle=o.under;ctx.fillRect(l,t,r-l,b-t);ctx.restore();}},
 afterDraw(chart,a,o){
  const {ctx,chartArea:{left:l,right:r,top:t,bottom:b},scales:{x,y}}=chart;
  ctx.save();ctx.lineWidth=1.6;ctx.strokeStyle=o.tickColor;ctx.beginPath();
  if(o.xticks)o.xticks.forEach(v=>{const p=x.getPixelForValue(v);ctx.moveTo(p,b);ctx.lineTo(p,b-o.len);ctx.moveTo(p,t);ctx.lineTo(p,t+o.len);});
  y.ticks.forEach(k=>{const p=y.getPixelForValue(k.value);ctx.moveTo(l,p);ctx.lineTo(l+o.len,p);ctx.moveTo(r,p);ctx.lineTo(r-o.len,p);});
  ctx.stroke();ctx.strokeStyle='#7f7f7f';ctx.lineWidth=2;ctx.strokeRect(l,t,r-l,b-t);ctx.restore();}};

function place(w,h,left,top){const c=document.createElement('canvas');c.width=w;c.height=h;c.style.left=left+'px';c.style.top=top+'px';c.style.width=w+'px';c.style.height=h+'px';document.body.appendChild(c);return c;}
const TXT='#222';
function heat(p,grid,colour){
  const pt=30,pr=60,gl=p.L-(p.nodesX-p.title/2),gb=(p.timeY+p.title/2)-p.B;
  const W=p.R-p.L,H=p.B-p.T;
  const cv=place(gl+W+pr,pt+H+gb,p.L-gl,p.T-pt);
  const data=cells(grid);
  new Chart(cv,{type:'bar',plugins:[framePlugin],
    data:{datasets:[{data,backgroundColor:data.map(d=>colour(d.v)),borderWidth:0,barPercentage:1,categoryPercentage:1}]},
    options:{indexAxis:'y',responsive:false,animation:false,devicePixelRatio:1,events:[],
      layout:{padding:{top:pt,right:pr,left:0,bottom:0}},
      plugins:{legend:{display:false},tooltip:{enabled:false},frame:{len:p.len,xticks:timeTicks,tickColor:'#444',under:colour(0)}},
      scales:{
        x:{type:'linear',min:.5,max:100.5,offset:false,beginAtZero:false,grid:{display:false},border:{display:false},
          afterBuildTicks:s=>{s.ticks=timeTicks.map(v=>({value:v}));},afterFit:s=>{s.height=gb;},
          ticks:{autoSkip:false,maxRotation:0,padding:p.xpad,color:TXT,font:{family:'Liberation Sans',size:p.tick},callback:v=>String(v)},
          title:{display:true,text:'Time',color:'#222',padding:0,font:{family:'Liberation Serif',size:p.title,lineHeight:1}}},
        y:{type:'linear',reverse:true,min:.5,max:20.5,offset:false,grid:{display:false},border:{display:false},
          afterBuildTicks:s=>{s.ticks=nodeTicks.map(v=>({value:v}));},afterFit:s=>{s.width=gl;},
          ticks:{autoSkip:false,padding:p.ypad,color:TXT,font:{family:'Liberation Sans',size:p.tick},callback:v=>String(v)},
          title:{display:true,text:'Nodes',color:'#222',padding:0,font:{family:'Liberation Serif',size:p.title,lineHeight:1}}}
      }}});
}
function colorbar(p,min,max,tickVals,colour){
  const pt=30,gut=110,W=p.cbR-p.cbL,H=p.B-p.T;
  const cv=place(W+gut,H+2*pt,p.cbL,p.T-pt);
  const levels=64,step=(max-min)/levels,data=[];
  for(let i=0;i<levels;i++)data.push({x:[0,1],y:min+(i+.5)*step,v:min+(i+.5)*step});
  new Chart(cv,{type:'bar',plugins:[framePlugin],
    data:{datasets:[{data,backgroundColor:data.map(d=>colour(d.v)),borderWidth:0,barPercentage:1,categoryPercentage:1}]},
    options:{indexAxis:'y',responsive:false,animation:false,devicePixelRatio:1,events:[],
      layout:{padding:{top:pt,bottom:pt,left:0,right:0}},
      plugins:{legend:{display:false},tooltip:{enabled:false},frame:{len:p.cbLen,tickColor:'#555'}},
      scales:{
        x:{type:'linear',display:false,min:0,max:1,offset:false,beginAtZero:false,grid:{display:false}},
        y:{type:'linear',position:'right',min,max,offset:false,grid:{display:false},border:{display:false},
          afterBuildTicks:s=>{s.ticks=tickVals.map(v=>({value:v}));},afterFit:s=>{s.width=gut;},
          ticks:{autoSkip:false,padding:p.cbpad,color:TXT,font:{family:'Liberation Sans',size:p.cbtick},callback:v=>String(v).replace('-','\u2212')}}
      }}});
}
function tag(letter,x,y){const d=document.createElement('div');d.className='tag';d.style.left=x+'px';d.style.top=(y-36)+'px';d.innerHTML='(<b>'+letter+'</b>)';document.body.appendChild(d);}

const big={L:121,R:890,cbL:933,cbR:963,nodesX:37,tick:35,title:41,xpad:16,ypad:11,len:9,cbpad:10,cbtick:34,cbLen:4};
const small={tick:26,title:30,xpad:10,ypad:8,len:9,cbpad:6,cbtick:23,cbLen:3};
const pA={...big,T:41.5,B:806,timeY:890};
const pD={...big,T:1197,B:1966,timeY:2049};
const pB={...small,L:1225,R:2058,cbL:2088,cbR:2113,nodesX:1163,T:38,B:835,timeY:893};
const pE={...small,L:1225,R:2058,cbL:2088,cbR:2113,nodesX:1163,T:1194,B:1990,timeY:2050};
const pC={...small,L:2355,R:3196,cbL:3226,cbR:3251,nodesX:2295,T:27,B:834,timeY:893};
const pF={...small,L:2355,R:3196,cbL:3226,cbR:3251,nodesX:2295,T:1188,B:1989,timeY:2050};

const unit=v=>diverge(v),two=v=>diverge(v/2),pc=v=>parula(v),FMAX=.73,pf=v=>parula(v/FMAX);
heat(pA,fromRows(rowsA),unit);colorbar(pA,-1,1,barTicksUnit,unit);
heat(pB,fromRows(rowsB),unit);colorbar(pB,-1,1,barTicksUnit,unit);
heat(pC,fromRows(rowsC,readGainC),pc);colorbar(pC,0,1,barTicksC,pc);
heat(pD,gridD,two);colorbar(pD,-2,2,barTicksTwo,two);
heat(pE,gridE,two);colorbar(pE,-2,2,barTicksTwo,two);
heat(pF,fromRows(rowsF,readGainF),pf);colorbar(pF,0,FMAX,barTicksF,pf);
tag('a',21,985);tag('b',1148,985);tag('c',2280,985);tag('d',21,2144);tag('e',1148,2144);tag('f',2280,2144);
</script>
</body></html>
